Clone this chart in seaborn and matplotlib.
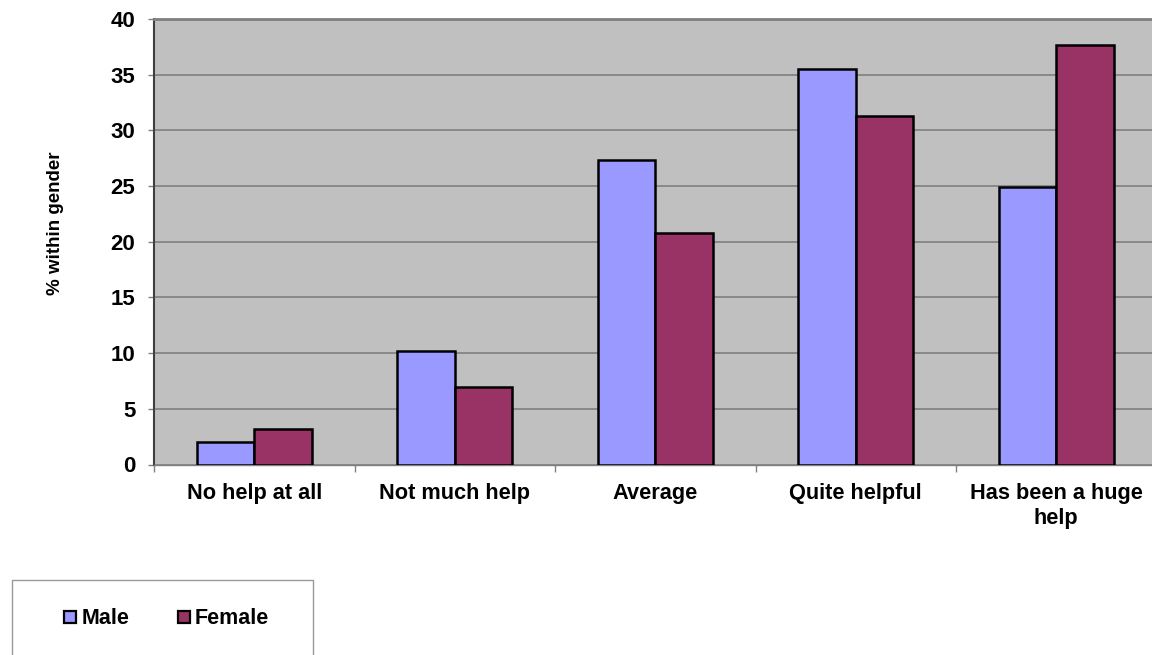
import matplotlib
matplotlib.use("Agg")
import matplotlib.pyplot as plt
from matplotlib.lines import Line2D
from matplotlib.patches import Rectangle
import seaborn as sns
import pandas as pd

categories = ["No help at all", "Not much help", "Average", "Quite helpful", "Has been a huge\nhelp"]
male = [2.0, 10.2, 27.3, 35.5, 24.9]
female = [3.2, 7.0, 20.8, 31.3, 37.7]
groups = ["Male", "Female"]
palette = {"Male": "#9999FF", "Female": "#993366"}
y_ticks = [0, 5, 10, 15, 20, 25, 30, 35, 40]

df = pd.DataFrame({
    "category": categories * 2,
    "gender": ["Male"] * len(categories) + ["Female"] * len(categories),
    "value": male + female,
})

sns.set_theme(style="white")
plt.rcParams["font.family"] = ["Liberation Sans", "DejaVu Sans"]
plt.rcParams["font.weight"] = "bold"
plt.rcParams["text.color"] = "black"
plt.rcParams["axes.labelcolor"] = "black"
plt.rcParams["xtick.labelcolor"] = "black"
plt.rcParams["ytick.labelcolor"] = "black"

W, H = 1152, 655
fig = plt.figure(figsize=(W / 100, H / 100), dpi=100)
ax = fig.add_axes([154 / W, (H - 464.5) / H, 1002.5 / W, 445.5 / H])
ax.set_facecolor("#C0C0C0")

sns.barplot(data=df, x="category", y="value", hue="gender", order=categories,
            hue_order=groups, palette=palette, width=0.574, saturation=1,
            edgecolor="black", linewidth=1.8, legend=False, ax=ax, zorder=3)

ax.set_xlim(-0.5, len(categories) - 0.5)
ax.set_ylim(0, 40)
ax.set_yticks(y_ticks)
ax.set_yticklabels([str(t) for t in y_ticks], fontsize=16, fontweight="bold")
ax.yaxis.grid(True, color="#808080", linewidth=1.2, zorder=0)
ax.set_axisbelow(True)

ax.set_xticks(range(len(categories)))
ax.set_xticklabels(categories, fontsize=15.7, fontweight="bold", linespacing=1.3)
ax.set_xticks([i - 0.5 for i in range(len(categories) + 1)], minor=True)
ax.tick_params(axis="x", which="major", length=0, pad=13)
ax.tick_params(axis="x", which="minor", length=5, width=1, color="#808080",
               direction="out", bottom=True)
ax.tick_params(axis="y", which="major", length=4.5, width=1, color="#808080",
               direction="out", left=True, pad=9)

ax.set_xlabel("")
ax.set_ylabel("% within gender", fontsize=13.5, fontweight="bold", labelpad=0)
ax.yaxis.set_label_coords(-(154 - 64) / 1002.5, (464.5 - 223.5) / 445.5)

for side in ax.spines:
    ax.spines[side].set_visible(True)
ax.spines["left"].set_color("#404040")
ax.spines["left"].set_linewidth(1.5)
ax.spines["bottom"].set_color("#808080")
ax.spines["bottom"].set_linewidth(1.0)
ax.spines["top"].set_color("#808080")
ax.spines["top"].set_linewidth(2.0)
ax.spines["right"].set_color("#808080")
ax.spines["right"].set_linewidth(1.0)

# legend box below the chart
fig.patches.append(Rectangle((12 / W, (H - 700) / H), 301 / W, 120 / H,
                             transform=fig.transFigure, facecolor="white",
                             edgecolor="#999999", linewidth=1.0, zorder=1))
handles = [Line2D([], [], linestyle="none", marker="s", markersize=9,
                  markerfacecolor=palette[g], markeredgecolor="black",
                  markeredgewidth=1.6) for g in groups]
fig.legend(handles, groups, loc="center", bbox_to_anchor=(166 / W, 1 - 619 / H),
           ncol=2, frameon=False, handlelength=0.7, handletextpad=0.15,
           columnspacing=2.2, prop={"size": 15.5, "weight": "bold"})

fig.savefig("out.png", dpi=100)
